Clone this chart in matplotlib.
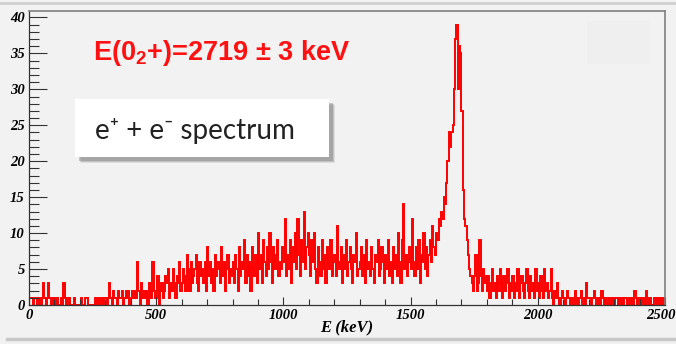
import matplotlib.pyplot as plt
import numpy as np
from matplotlib.patches import Rectangle
from matplotlib.ticker import MultipleLocator
from matplotlib.transforms import blended_transform_factory, offset_copy

plt.rcParams['mathtext.fontset'] = 'custom'
plt.rcParams['mathtext.bf'] = 'Liberation Sans:bold'
plt.rcParams['mathtext.rm'] = 'Liberation Sans:bold'
plt.rcParams['mathtext.default'] = 'bf'

# counts per 5 keV bin (0 - 2500 keV)
c0000 = [1,1,1,0,1,1,0,0,1,0,1,3,1,0,1,3,1,0,1,0]
c0100 = [1,0,1,0,0,1,0,3,1,0,0,1,0,0,0,1,0,0,0,0]
c0200 = [0,1,0,0,1,1,0,0,0,0,0,0,1,0,1,1,0,1,0,1]
c0300 = [1,0,1,3,1,0,2,1,1,0,2,1,1,2,0,1,2,1,2,0]
c0400 = [1,2,1,2,1,6,2,0,3,1,2,1,2,0,3,2,1,6,2,1]
c0500 = [1,4,0,2,3,1,2,4,3,5,1,3,2,5,3,1,4,3,6,2]
c0600 = [3,5,4,2,7,5,2,6,3,4,5,7,3,2,6,4,5,3,6,2]
c0700 = [8,4,6,3,5,2,7,4,6,5,3,8,4,6,2,5,7,3,5,4]
c0800 = [6,3,7,5,2,8,4,6,5,9,3,7,4,6,2,8,5,4,7,3]
c0900 = [10,5,7,3,9,6,4,8,5,10,6,3,8,5,7,9,4,6,5,8]
c1000 = [6,12,4,7,5,9,3,8,6,10,5,12,7,4,9,6,13,5,8,10]
c1100 = [7,4,9,6,10,5,3,8,6,4,9,5,7,3,8,6,5,9,4,6]
c1200 = [7,4,11,6,5,8,3,7,5,9,4,6,8,5,3,7,6,10,4,5]
c1300 = [6,8,4,7,3,9,5,6,4,8,5,3,7,6,9,4,5,8,6,3]
c1400 = [7,5,9,4,6,3,8,5,7,4,10,6,3,9,14,5,7,4,6,8]
c1500 = [5,12,6,4,8,5,9,3,7,6,10,5,8,4,7,9,6,11,8,7]
c1600 = [10,9,12,11,13,12,15,14,17,20,24,22,24,25,30,37,39,30,36,35]
c1700 = [27,16,12,11,9,7,5,4,3,2,4,7,2,3,9,4,2,5,3,4]
c1800 = [2,4,1,3,5,2,3,1,4,2,5,3,1,4,2,3,5,1,3,2]
c1900 = [4,1,3,2,5,1,3,4,2,1,3,5,2,1,4,2,3,1,5,2]
c2000 = [3,1,4,2,1,5,2,3,1,2,5,1,0,2,1,3,1,0,1,2]
c2100 = [1,0,1,2,1,0,1,1,0,2,1,0,1,1,2,0,1,0,3,1]
c2200 = [1,1,0,1,2,1,0,1,1,0,2,1,0,1,0,1,1,0,1,0]
c2300 = [0,1,1,0,1,0,1,0,1,1,0,0,1,0,1,0,2,1,0,1]
c2400 = [0,1,0,1,0,2,1,0,1,0,0,1,1,0,1,0,1,1,0,1]

counts = (c0000 + c0100 + c0200 + c0300 + c0400 + c0500 + c0600 + c0700
          + c0800 + c0900 + c1000 + c1100 + c1200 + c1300 + c1400 + c1500
          + c1600 + c1700 + c1800 + c1900 + c2000 + c2100 + c2200 + c2300 + c2400)
edges = np.linspace(0, 2500, len(counts) + 1)
xticks = [0, 500, 1000, 1500, 2000, 2500]

bg = '#f2f2f2'
fig = plt.figure(figsize=(6.76, 3.44), dpi=100, facecolor=bg)
ax = fig.add_axes([29/676, 39/344, 636/676, 294/344], facecolor=bg)

ax.stairs(counts, edges, color='red', lw=1.4)

ax.set_xlim(0, 2500)
ax.set_ylim(0, 40.9)
ax.set_xticks(xticks)
ax.xaxis.set_minor_locator(MultipleLocator(100))
ax.yaxis.set_major_locator(MultipleLocator(5))
ax.yaxis.set_minor_locator(MultipleLocator(1))
ax.tick_params(axis='y', which='major', direction='in', length=13, width=0.8, color='#333333', pad=3)
ax.tick_params(axis='y', which='minor', direction='in', length=7, width=0.8, color='#333333')
ax.tick_params(axis='x', which='major', direction='in', length=6, width=0.8, color='#333333',
               labelbottom=False)
ax.tick_params(axis='x', which='minor', direction='in', length=4, width=0.8, color='#333333')
for lab in ax.get_yticklabels():
    lab.set_family('Liberation Serif')
    lab.set_style('italic')
    lab.set_weight('bold')
    lab.set_fontsize(10.5)

# x tick labels as texts; the last one nudged left so it stays in the picture
tr = blended_transform_factory(ax.transData, ax.transAxes)
for v in xticks:
    t = tr if v < 2500 else offset_copy(tr, fig=fig, x=-4, y=0, units='dots')
    ax.text(v, -0.035, str(v), transform=t, ha='center', va='center',
            family='Liberation Serif', style='italic', weight='bold', fontsize=10.5)

fig.text(0.5 * (29 + 665) / 676, 1 - 327/344, 'E (keV)', family='Liberation Serif',
         style='italic', weight='bold', fontsize=12, ha='center', va='center')

for s in ['left', 'bottom']:
    ax.spines[s].set_color('#333333')
    ax.spines[s].set_linewidth(0.9)
for s in ['top', 'right']:
    ax.spines[s].set_color('#808080')
    ax.spines[s].set_linewidth(1.2)

# faint box at upper right
ax.add_patch(Rectangle((2195, 33.5), 245, 6, transform=ax.transData,
                       facecolor='#efefef', edgecolor='none', zorder=0))

fig.text(93/676, 1 - 53/344, r'E(0$_2$+)=2719 ± 3 keV', color='#ff1111',
         family='Liberation Sans', weight='bold', fontsize=19.5, va='center')

# white label box with shadow
for off, a in [(6, 0.15), (5, 0.25), (4, 0.35)]:
    fig.patches.append(Rectangle(((75 + off)/676, 1 - (157 + off)/344), 254/676, 58/344,
                                 transform=fig.transFigure, facecolor='#707070',
                                 edgecolor='none', alpha=a, zorder=3))
fig.patches.append(Rectangle((75/676, 1 - 157/344), 254/676, 58/344, transform=fig.transFigure,
                             facecolor='white', edgecolor='none', zorder=4))
fig.text(95/676, 1 - 131/344, 'e\u207a + e\u207b spectrum', family=['Lato', 'DejaVu Sans'],
         fontsize=20, color='#222222', va='center', zorder=5)

# window frame lines
fig.add_artist(plt.Line2D([0, 1], [1 - 3/344, 1 - 3/344], color='#d0d0d0', lw=2))
fig.add_artist(plt.Line2D([0.01, 1], [1 - 339/344, 1 - 339/344], color='#c8c8c8', lw=2.5))

fig.savefig('out.png', dpi=100, facecolor=bg)
